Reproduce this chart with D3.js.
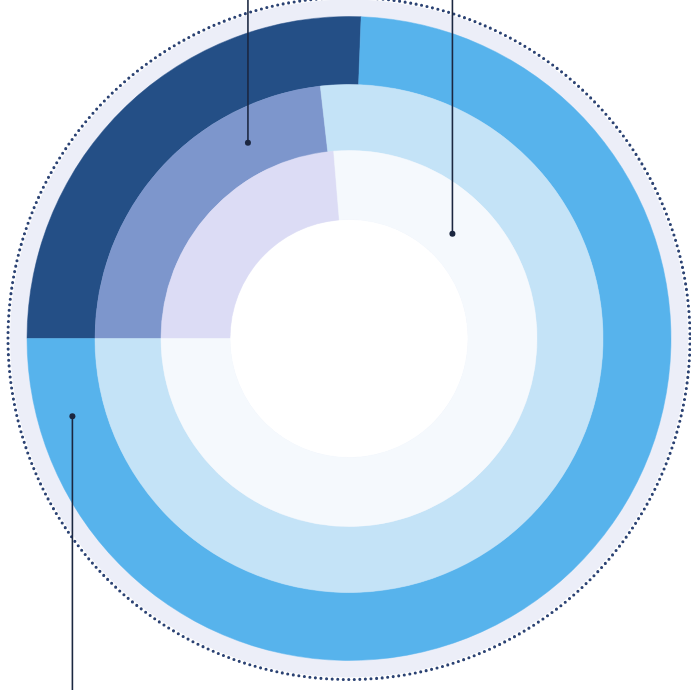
<!DOCTYPE html>
<html>
<head>
<meta charset="utf-8">
<script src="https://cdn.jsdelivr.net/npm/d3@7"></script>
<style>
  html, body { margin: 0; padding: 0; background: #ffffff; }
  svg { display: block; }
</style>
</head>
<body>
<svg id="chart" width="691" height="690"></svg>
<script>
// ---- data (percent shares per ring) ----
const rings = ["outer", "middle", "inner"];
const segments = ["highlight", "rest"];
const outerValues = [25.6, 74.4];
const middleValues = [23.2, 76.8];
const innerValues = [23.7, 76.3];
// annotation pointers: ring, segment index, angle (degrees, clockwise from 12 o'clock),
// relative depth inside the ring band, direction of leader
const annoRing = ["middle", "inner", "outer"];
const annoSegment = [0, 1, 1];
const annoAngle = [-27.3, 44.6, 254.3];
const annoDepth = [0.49, 0.41, 0.49];
const annoDir = ["up", "up", "down"];

// ---- layout ----
const W = 691, H = 690;
const cx = 349, cy = 338.5;
const svg = d3.select("#chart");
const g = svg.append("g").attr("transform", `translate(${cx},${cy})`);

const radius = d3.scaleOrdinal().domain(rings).range([[254, 322], [188, 254], [119, 188]]);
const colors = {
  outer: ["#244f86", "#57b3ec"],
  middle: ["#7d96cc", "#c4e3f7"],
  inner: ["#dcdcf5", "#f5f9fd"]
};
const valuesByRing = { outer: outerValues, middle: middleValues, inner: innerValues };

// background halo + dotted border
g.append("circle").attr("r", 339).attr("fill", "#eceef8");
const dotR = 341;
const nDots = 384;
g.append("circle").attr("r", dotR).attr("fill", "none")
  .attr("stroke", "#2b4273").attr("stroke-width", 3.1)
  .attr("stroke-linecap", "round")
  .attr("stroke-dasharray", `0 ${(2 * Math.PI * dotR / nDots).toFixed(4)}`);

g.append("circle").attr("r", 119).attr("fill", "#ffffff");

const pie = d3.pie().sort(null)
  .startAngle(-Math.PI / 2).endAngle(3 * Math.PI / 2);

rings.forEach(ring => {
  const [r0, r1] = radius(ring);
  const arc = d3.arc().innerRadius(r0).outerRadius(r1);
  const arcs = pie(valuesByRing[ring]);
  g.append("g").selectAll("path").data(arcs).join("path")
    .attr("d", arc)
    .attr("fill", (d, i) => colors[ring][i])
    .attr("stroke", (d, i) => colors[ring][i])
    .attr("stroke-width", 0.5);
});

// annotation leaders
annoRing.forEach((ring, k) => {
  const [r0, r1] = radius(ring);
  const rm = r0 + (r1 - r0) * annoDepth[k];
  const a = annoAngle[k] * Math.PI / 180;
  const x = rm * Math.sin(a), y = -rm * Math.cos(a);
  const yEnd = annoDir[k] === "up" ? -cy : H - cy;
  g.append("line").attr("x1", x).attr("y1", y).attr("x2", x).attr("y2", yEnd)
    .attr("stroke", "#1b2740").attr("stroke-width", 1.6);
  g.append("circle").attr("cx", x).attr("cy", y).attr("r", 3).attr("fill", "#1b2740");
});
</script>
</body>
</html>
